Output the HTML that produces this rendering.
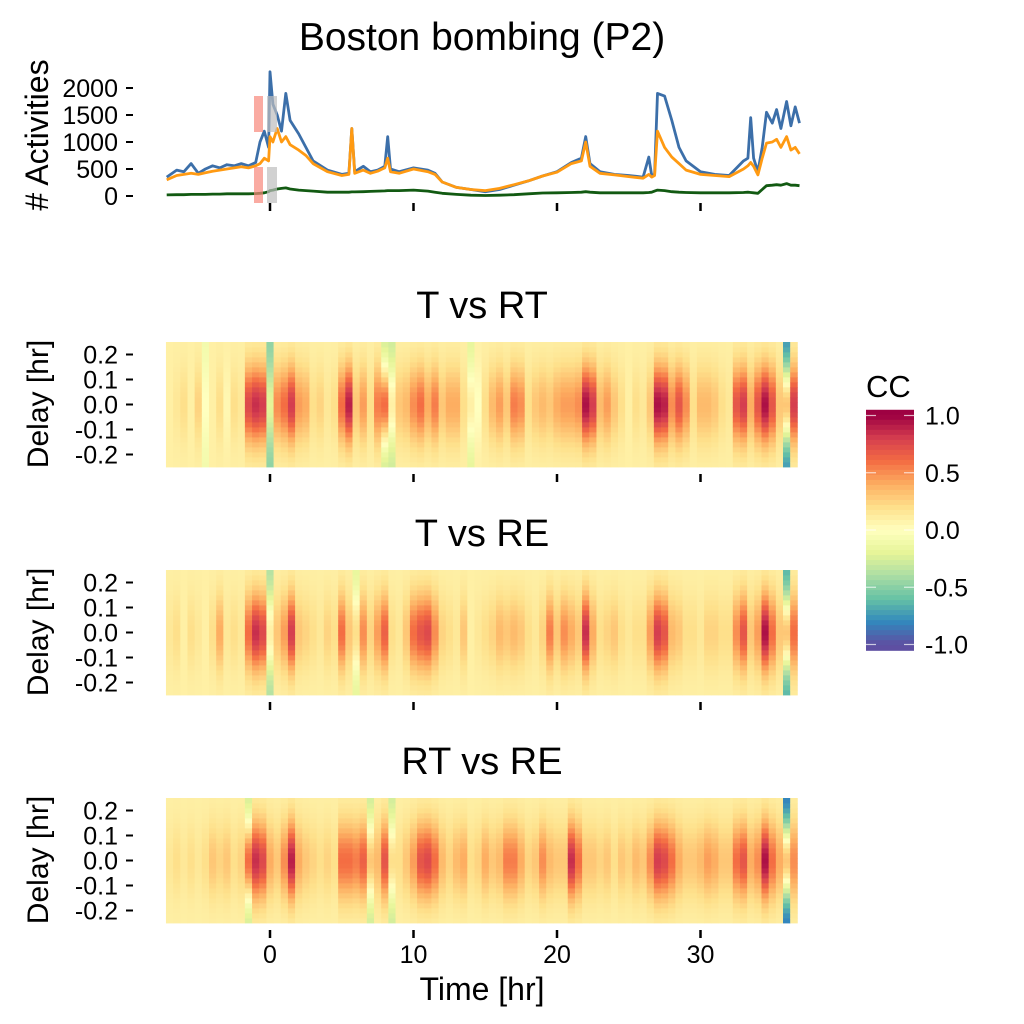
<!DOCTYPE html>
<html><head><meta charset="utf-8"><style>
body{margin:0;background:#fff;}
svg{display:block;font-family:"Liberation Sans",Arial,sans-serif;}
</style></head><body>
<svg id="chart" width="1024" height="1024" viewBox="0 0 1024 1024" xmlns="http://www.w3.org/2000/svg">
<rect width="1024" height="1024" fill="#fff"/>
<text x="482" y="50" font-size="39" text-anchor="middle">Boston bombing (P2)</text>
<text transform="translate(48,135) rotate(-90)" font-size="32" text-anchor="middle"># Activities</text>
<g id="topPanel"></g>
<text x="482" y="318" font-size="38" text-anchor="middle">T vs RT</text>
<text x="482" y="546" font-size="38" text-anchor="middle">T vs RE</text>
<text x="482" y="774" font-size="38" text-anchor="middle">RT vs RE</text>
<g id="hm"></g>
<text x="482" y="1000" font-size="32" text-anchor="middle">Time [hr]</text>
<g id="cb"></g>
</svg>
<script>
const times=[-7.2,-6.5,-6,-5.5,-5,-4.5,-4,-3.5,-3,-2.5,-2,-1.5,-1,-0.7,-0.4,-0.1,0,0.2,0.5,0.8,1.1,1.4,2,2.5,3,4,5,5.5,5.7,5.9,6.5,7,7.5,8,8.2,8.4,9,10,11,11.5,12,13,14,15,16,17,18,19,20,21,21.7,22,22.3,23,24,25,26,26.4,26.6,26.8,27,27.5,28,28.5,29,30,31,32,33,33.3,33.5,33.7,34,34.3,34.6,35,35.3,35.6,36,36.3,36.6,36.9];
const blueSeries=[350,480,450,600,420,500,560,520,580,560,600,560,620,1000,1200,900,2300,1700,1500,1200,1900,1400,1150,900,650,480,400,420,1250,450,550,450,480,550,1100,500,450,520,480,420,260,160,120,80,120,200,280,370,450,620,700,1100,600,450,400,380,350,720,380,400,1900,1850,1400,900,650,450,400,380,650,700,1450,700,450,900,1550,1350,1600,1250,1750,1300,1650,1350];
const orangeSeries=[300,380,400,420,400,430,460,480,500,520,540,520,560,600,700,650,1100,1000,1250,1000,1100,950,850,750,600,450,380,400,1250,420,480,420,460,520,700,450,420,500,450,400,260,160,120,100,140,210,280,370,440,600,650,1000,550,420,390,360,330,400,350,380,1200,900,720,600,480,400,380,360,500,560,620,550,390,700,980,1000,1050,900,1100,850,900,780];
const greenSeries=[20,25,25,30,30,30,35,35,40,40,40,40,45,50,60,80,100,110,130,140,150,130,110,100,90,70,70,70,75,75,80,85,90,95,100,100,100,110,90,70,50,30,15,10,15,25,40,55,60,65,70,80,70,60,60,60,60,65,70,90,110,100,80,70,65,60,60,60,65,70,65,60,50,120,190,200,210,200,230,200,200,190];
const yTicks=[0,500,1000,1500,2000];
const xTicks=[0,10,20,30];
const delayTicks=[-0.2,-0.1,0.0,0.1,0.2];
const delays=[-0.24,-0.22,-0.2,-0.18,-0.16,-0.14,-0.12,-0.1,-0.08,-0.06,-0.04,-0.02,0,0.02,0.04,0.06,0.08,0.1,0.12,0.14,0.16,0.18,0.2,0.22,0.24];
const colTimes=[];for(let i=0;i<88;i++)colTimes.push(-7+0.5*i);
const ampTvsRT=[0.1,0.15,0.2,0.1,0.25,0.0,0.1,0.2,0.05,0.2, 0.15,0.75,0.85,0.8,-0.2,0.5,0.6,0.8,0.45,0.4, 0.2,0.25,0.15,0.2,0.6,0.9,0.3,0.45,0.2,0.55, 0.6,0.1,0.3,0.35,0.5,0.6,0.4,0.55,0.3,0.4, 0.4,0.2,0.1,0.0,0.2,0.35,0.45,0.3,0.55,0.5, 0.2,0.3,0.35,0.3,0.4,0.45,0.45,0.5,0.95,0.8, 0.35,0.45,0.3,0.2,0.1,0.2,0.15,0.3,0.95,0.9, 0.5,0.7,0.5,0.2,0.35,0.35,0.3,0.2,0.15,0.7, 0.8,0.4,0.7,0.95,0.7,0.3,0.3,0.8];
const edgeTvsRT=[0.1,0.1,0.1,0.1,0.1,-0.1,0.1,0.1,0.1,0.1, 0.1,0.1,0.1,0.1,-0.5,0.1,0.1,0.1,0.1,0.1, 0.1,0.1,0.1,0.1,0.1,0.1,0.1,0.1,0.1,0.1, -0.3,-0.3,0.1,0.1,0.1,0.1,0.1,0.1,0.1,0.1, 0.1,0.1,-0.2,0.1,0.1,0.1,0.1,0.1,0.1,0.1, 0.1,0.1,0.1,0.1,0.1,0.1,0.1,0.1,0.1,0.1, 0.1,0.1,0.1,0.1,0.1,0.1,0.1,0.1,0.1,0.1, 0.1,0.1,0.1,0.1,0.1,0.1,0.1,0.1,0.1,0.1, 0.1,0.1,0.1,0.1,0.1,0.1,-0.8,0.1];
const ampTvsRE=[0.15,0.2,0.1,0.2,0.15,0.1,0.2,0.4,0.15,0.2, 0.15,0.6,0.85,0.75,0.1,0.3,0.45,0.8,0.3,0.25, 0.2,0.15,0.25,0.2,0.6,0.3,0.2,0.5,0.25,0.45, 0.65,0.2,0.15,0.3,0.6,0.7,0.75,0.5,0.25,0.2, 0.15,0.3,0.1,0.15,0.2,0.25,0.35,0.3,0.35,0.3, 0.2,0.15,0.25,0.55,0.3,0.5,0.4,0.3,0.85,0.4, 0.2,0.25,0.3,0.2,0.15,0.2,0.2,0.45,0.8,0.7, 0.35,0.3,0.2,0.2,0.15,0.25,0.25,0.2,0.2,0.5, 0.7,0.3,0.45,0.95,0.6,0.3,0.3,0.6];
const edgeTvsRE=[0.1,0.1,0.1,0.1,0.1,0.1,0.1,0.1,0.1,0.1, 0.1,0.1,0.1,0.1,-0.4,0.1,0.1,0.1,0.1,0.1, 0.1,0.1,0.1,0.1,0.1,0.1,-0.2,0.1,0.1,0.1, 0.1,0.1,0.1,0.1,0.1,0.1,0.1,0.1,0.1,0.1, 0.1,0.1,0.1,0.1,0.1,0.1,0.1,0.1,0.1,0.1, 0.1,0.1,0.1,0.1,0.1,0.1,0.1,0.1,0.1,0.1, 0.1,0.1,0.1,0.1,0.1,0.1,0.1,0.1,0.1,0.1, 0.1,0.1,0.1,0.1,0.1,0.1,0.1,0.1,0.1,0.1, 0.1,0.1,0.1,0.1,0.1,0.1,-0.7,0.1];
const ampRTvsRE=[0.15,0.2,0.15,0.2,0.15,0.2,0.3,0.25,0.3,0.2, 0.25,0.6,0.85,0.75,0.4,0.3,0.5,0.9,0.4,0.3, 0.25,0.2,0.25,0.2,0.6,0.6,0.55,0.65,0.3,0.35, 0.7,0.2,0.2,0.3,0.45,0.7,0.75,0.6,0.35,0.25, 0.35,0.4,0.2,0.25,0.4,0.3,0.35,0.55,0.55,0.4, 0.25,0.3,0.5,0.35,0.3,0.3,0.85,0.6,0.3,0.3, 0.25,0.3,0.2,0.3,0.25,0.35,0.3,0.5,0.8,0.75, 0.6,0.4,0.3,0.3,0.35,0.45,0.4,0.3,0.3,0.6, 0.7,0.4,0.5,0.95,0.6,0.4,0.3,0.5];
const edgeRTvsRE=[0.1,0.1,0.1,0.1,0.1,0.1,0.1,0.1,0.1,0.1, 0.1,-0.3,0.1,0.1,0.1,0.1,0.1,0.1,0.1,0.1, 0.1,0.1,0.1,0.1,0.1,0.1,0.1,0.1,-0.3,0.1, 0.1,-0.3,0.1,0.1,0.1,0.1,0.1,0.1,0.1,0.1, 0.1,0.1,0.1,0.1,0.1,0.1,0.1,0.1,0.1,0.1, 0.1,0.1,0.1,0.1,0.1,0.1,0.1,0.1,0.1,0.1, 0.1,0.1,0.1,0.1,0.1,0.1,0.1,0.1,0.1,0.1, 0.1,0.1,0.1,0.1,0.1,0.1,0.1,0.1,0.1,0.1, 0.1,0.1,0.1,0.1,0.1,0.1,-0.9,0.1];
const cbTicks=[1.0,0.5,0.0,-0.5,-1.0];

const NS='http://www.w3.org/2000/svg';
function mk(tag,attrs,parent){const e=document.createElementNS(NS,tag);for(const k in attrs)e.setAttribute(k,attrs[k]);parent.appendChild(e);return e;}
const xScale=t=>270+(t)*14.35;
const yAct=v=>196-v*27/500;
const TF=25;

// top panel
const topG=document.getElementById('topPanel');
yTicks.forEach(v=>{
  const t=mk('text',{x:118,y:yAct(v)+9,'font-size':TF,'text-anchor':'end'},topG);t.textContent=v;
  
  
  const l=mk('line',{x1:126,x2:133,y1:yAct(v),y2:yAct(v),stroke:'#000','stroke-width':2},topG);
  
  
});
xTicks.forEach(v=>{
  const l=mk('line',{x1:xScale(v),x2:xScale(v),y1:203,y2:211,stroke:'#000','stroke-width':2.5},topG);
  
  
});
[['#3C6FA9',blueSeries,'total-activity-line'],['#FF9A12',orangeSeries,'retweet-activity-line'],['#125A12',greenSeries,'reply-activity-line']].forEach(([c,s,n])=>{
  const d=s.map((v,i)=>(i?'L':'M')+xScale(times[i]).toFixed(1)+','+yAct(v).toFixed(1)).join('');
  const p=mk('path',{d:d,fill:'none',stroke:c,'stroke-width':2.8,'stroke-linejoin':'round'},topG);
  
  
});
[[254,96,9,36,'#F8877A'],[254,167,9,36,'#F8877A'],[267,96,10,36,'#BDBDBD'],[267,167,10,36,'#BDBDBD']].forEach(r=>{
  const e=mk('rect',{x:r[0],y:r[1],width:r[2],height:r[3],fill:r[4],opacity:0.7},topG);
  
  
});

// colors
const spec=['#5E4FA2','#3288BD','#66C2A5','#ABDDA4','#E6F598','#FFFFBF','#FEE08B','#FDAE61','#F46D43','#D53E4F','#9E0142'];
function hex(h){return [1,3,5].map(i=>parseInt(h.substr(i,2),16));}
function col(v){v=Math.max(-1,Math.min(1,v));const p=(v+1)/2*10;const i=Math.min(9,Math.floor(p));const f=p-i;const a=hex(spec[i]),b=hex(spec[i+1]);return 'rgb('+a.map((x,k)=>Math.round(x+(b[k]-x)*f)).join(',')+')';}

// heatmaps
const hm=document.getElementById('hm');
const panels=[[342,ampTvsRT,edgeTvsRT,'t-vs-rt'],[570,ampTvsRE,edgeTvsRE,'t-vs-re'],[798,ampRTvsRE,edgeRTvsRE,'rt-vs-re']];
panels.forEach(([y0,amp,edge,name])=>{
  const g=mk('g',{},hm);
  
  
  const yD=d=>y0+62.5-d*250;
  colTimes.forEach((t,i)=>{
    const x0=xScale(t-0.25),x1=xScale(t+0.25);
    delays.forEach(d=>{
      const v=edge[i]+(amp[i]-edge[i])*Math.exp(-(d/0.15)*(d/0.15));
      const r=mk('rect',{x:x0.toFixed(2),y:(yD(d)-2.5).toFixed(2),width:(x1-x0+0.4).toFixed(2),height:5.4,fill:col(v)},g);
      
      
    });
  });
  delayTicks.forEach(d=>{
    const t=mk('text',{x:118,y:yD(d)+9,'font-size':TF,'text-anchor':'end'},hm);t.textContent=d.toFixed(1);
    
    
    const l=mk('line',{x1:126,x2:133,y1:yD(d),y2:yD(d),stroke:'#000','stroke-width':2},hm);
    
    
  });
  xTicks.forEach(v=>{
    const l=mk('line',{x1:xScale(v),x2:xScale(v),y1:y0+132,y2:y0+140,stroke:'#000','stroke-width':2.5},hm);
    
    
  });
  const lab=mk('text',{transform:'translate(48,'+(y0+62)+') rotate(-90)','font-size':30,'text-anchor':'middle'},hm);
  lab.textContent='Delay [hr]';
  
  
});
xTicks.forEach(v=>{
  const t=mk('text',{x:xScale(v),y:963,'font-size':TF,'text-anchor':'middle'},hm);t.textContent=v;
  
  
});

// colorbar
const cb=document.getElementById('cb');
const cbY=v=>530-v*114.5;
const ct=mk('text',{x:866,y:397,'font-size':31},cb);ct.textContent='CC';


for(let k=0;k<48;k++){
  const v=1.05-k*(2.1/48);
  const r=mk('rect',{x:866,y:(cbY(v)).toFixed(2),width:48,height:5.6,fill:col(v-0.02)},cb);
  
  
}
cbTicks.forEach(v=>{
  [[866,876],[904,914]].forEach(([a,b])=>{const l=mk('line',{x1:a,x2:b,y1:cbY(v),y2:cbY(v),stroke:'#fff','stroke-width':1.2,opacity:0.7},cb);
  
  });
  const t=mk('text',{x:925,y:cbY(v)+9,'font-size':TF},cb);t.textContent=v.toFixed(1);
  
  
});
</script>
</body></html>
